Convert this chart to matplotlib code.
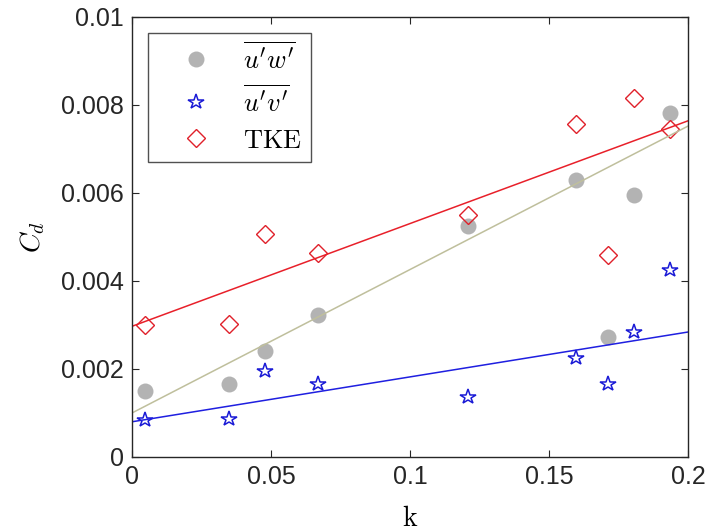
import matplotlib
matplotlib.use('Agg')
import matplotlib.pyplot as plt
import numpy as np

# roughness parameter k and drag coefficients
k = [0.0047, 0.0348, 0.0478, 0.0670, 0.1207, 0.1596, 0.1711, 0.1807, 0.1935]
cd_uw = [0.00150, 0.00166, 0.00241, 0.00323, 0.00525, 0.00629, 0.00273, 0.00595, 0.00781]
cd_uv = [0.00084, 0.00087, 0.00196, 0.00166, 0.00136, 0.00225, 0.00166, 0.00284, 0.00424]
cd_tke = [0.00301, 0.00303, 0.00507, 0.00464, 0.00549, 0.00756, 0.00460, 0.00817, 0.00746]

# linear fits (intercept, slope) as drawn in the figure
fit_uw = (0.00100, 0.0326)
fit_uv = (0.00080, 0.0102)
fit_tke = (0.00297, 0.02335)

labels = [r'$\overline{u^\prime w^\prime}\;\;$', r'$\overline{u^\prime v^\prime}$', r'$\mathrm{TKE}$']
xticks = [0, 0.05, 0.1, 0.15, 0.2]
yticks = [0, 0.002, 0.004, 0.006, 0.008, 0.01]

plt.rcParams['font.family'] = ['Liberation Sans', 'DejaVu Sans']
plt.rcParams['mathtext.fontset'] = 'cm'

fig = plt.figure(figsize=(7.07, 5.31), dpi=100)
ax = fig.add_axes([0.1867, 0.1394, 0.7864, 0.8286])

ax.plot(k, cd_uw, 'o', color='#b3b3b3', markersize=11.5, markeredgewidth=0, label=labels[0])
ax.plot(k, cd_uv, '*', color='#1a1ad6', markerfacecolor='none', markersize=11.5, markeredgewidth=1.1, label=labels[1])
ax.plot(k, cd_tke, 'D', color='#e0202a', markerfacecolor='none', markersize=9.5, markeredgewidth=1.0, label=labels[2])

xx = np.array([0.0, 0.2])
ax.plot(xx, fit_uw[0] + fit_uw[1]*xx, color='#bfbf9c', lw=1.1)
ax.plot(xx, fit_uv[0] + fit_uv[1]*xx, color='#1f1fe0', lw=1.1)
ax.plot(xx, fit_tke[0] + fit_tke[1]*xx, color='#e8202a', lw=1.1)

ax.set_xlim(0, 0.2)
ax.set_ylim(0, 0.01)
ax.set_xticks(xticks)
ax.set_xticklabels(['0', '0.05', '0.1', '0.15', '0.2'])
ax.set_yticks(yticks)
ax.set_yticklabels(['0', '0.002', '0.004', '0.006', '0.008', '0.01'])
ax.tick_params(direction='in', length=5, width=0.8, colors='#262626', labelsize=18,
               top=True, right=True, pad=6)
for s in ax.spines.values():
    s.set_color('#262626')
    s.set_linewidth(1.0)

ax.set_xlabel(r'$\mathrm{k}$', fontsize=20, labelpad=12)
ax.set_ylabel(r'$C_d$', fontsize=20, labelpad=10)

leg = ax.legend(loc='upper left', bbox_to_anchor=(0.028, 0.964), fontsize=19, frameon=True,
                fancybox=False, edgecolor='#262626', handletextpad=0.25, borderpad=0.35,
                labelspacing=0.45, handlelength=3.0, borderaxespad=0)
leg.get_frame().set_linewidth(1.0)

fig.savefig('out.png', dpi=100)
